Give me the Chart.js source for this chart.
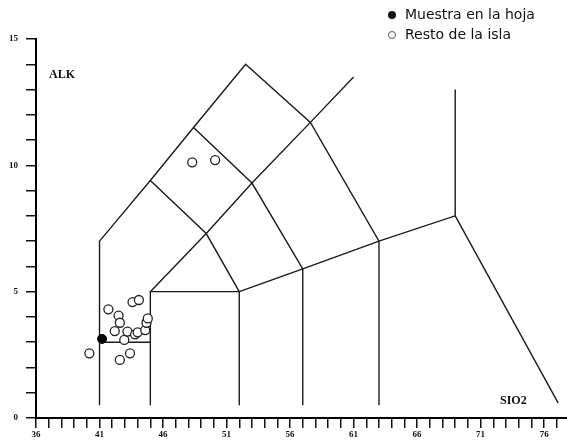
<!DOCTYPE html>
<html>
<head>
<meta charset="utf-8">
<script src="https://cdn.jsdelivr.net/npm/chart.js@4/dist/chart.umd.min.js"></script>
<style>
  body { margin: 0; background: #fff; }
  canvas { display: block; }
</style>
</head>
<body>
<canvas id="tas" width="567" height="442"></canvas>
<script>
// SiO2 (x) / total alkalis (y) samples
const muestraX = [41.2];
const muestraY = [3.13];

const restoX = [40.2, 41.7, 42.5, 42.6, 42.2, 42.6, 43.4, 42.95, 43.2, 43.6, 44.1, 43.8, 44.0, 44.6, 44.7, 44.8, 48.3, 50.1];
const restoY = [2.56, 4.3, 4.05, 3.77, 3.44, 2.3, 2.56, 3.09, 3.42, 4.59, 4.67, 3.31, 3.39, 3.48, 3.77, 3.94, 10.12, 10.21];

// field boundaries of the diagram, [SiO2, alk] pairs
const fieldOuter = [[41, 0.5], [41, 7], [45, 9.4], [48.4, 11.5], [52.5, 14], [57.6, 11.7], [63, 7], [63, 0.5]];
const fieldPicro = [[41, 3], [45, 3]];
const fieldBasalt = [[45, 0.5], [45, 5], [52, 5], [52, 0.5]];
const fieldTrachy = [[45, 5], [49.4, 7.3], [53, 9.3], [57.6, 11.7], [61, 13.5]];
const fieldTephri = [[45, 9.4], [49.4, 7.3], [52, 5]];
const fieldPhono = [[48.4, 11.5], [53, 9.3], [57, 5.9], [57, 0.5]];
const fieldAndes = [[52, 5], [57, 5.9], [63, 7], [69, 8], [69, 13]];
const fieldDacite = [[69, 8], [77.1, 0.6]];

const xTickStart = 36;
const yLabelEvery = 5;

const fieldLines = [fieldOuter, fieldPicro, fieldBasalt, fieldTrachy, fieldTephri, fieldPhono, fieldAndes, fieldDacite];

const toPoints = (xs, ys) => xs.map((x, i) => ({ x: x, y: ys[i] }));

const datasets = [
  {
    label: 'Muestra en la hoja',
    data: toPoints(muestraX, muestraY),
    pointRadius: 4.5,
    pointBackgroundColor: '#000',
    pointBorderColor: '#000',
    pointBorderWidth: 1
  },
  {
    label: 'Resto de la isla',
    data: toPoints(restoX, restoY),
    pointRadius: 4.5,
    pointBackgroundColor: '#fff',
    pointBorderColor: '#222',
    pointBorderWidth: 1.3
  }
];
fieldLines.forEach(line => {
  datasets.push({
    label: '',
    data: line.map(p => ({ x: p[0], y: p[1] })),
    showLine: true,
    pointRadius: 0,
    borderColor: '#1a1a1a',
    borderWidth: 1.4,
    fill: false,
    tension: 0
  });
});

// text inside the plot + little legend in the top right corner
const labelsPlugin = {
  id: 'labelsPlugin',
  afterDraw(chart) {
    const ctx = chart.ctx;
    ctx.save();
    ctx.fillStyle = '#111';
    ctx.textBaseline = 'middle';
    ctx.font = 'bold 12px "Liberation Serif"';
    ctx.fillText('ALK', 49, 75);
    ctx.fillText('SIO2', 500, 401);

    ctx.font = '14px "DejaVu Sans"';
    ctx.beginPath();
    ctx.arc(392, 15, 4, 0, Math.PI * 2);
    ctx.fill();
    ctx.fillText('Muestra en la hoja', 405, 15);
    ctx.beginPath();
    ctx.arc(392, 35, 3.5, 0, Math.PI * 2);
    ctx.strokeStyle = '#555';
    ctx.lineWidth = 1;
    ctx.stroke();
    ctx.fillText('Resto de la isla', 405, 35);
    ctx.restore();
  }
};

new Chart(document.getElementById('tas'), {
  type: 'scatter',
  data: { datasets: datasets },
  options: {
    responsive: false,
    animation: false,
    layout: { autoPadding: false, padding: { top: 39, right: 0, left: 0, bottom: 0 } },
    plugins: {
      legend: { display: false },
      tooltip: { enabled: false }
    },
    scales: {
      x: {
        type: 'linear',
        min: 36,
        max: 77.8,
        afterFit: (scale) => {
          scale.height = 24;
          scale.paddingRight = 0;
          scale.paddingLeft = 0;
        },
        border: { display: true, color: '#000', width: 2 },
        grid: { drawOnChartArea: false, tickLength: 10, color: '#111', lineWidth: 1.5 },
        ticks: {
          stepSize: 1,
          autoSkip: false,
          includeBounds: false,
          maxRotation: 0,
          padding: 1,
          color: '#111',
          font: { family: '"Liberation Serif"', size: 9, weight: 'bold' },
          callback: (v) => ((v - xTickStart) % 5 === 0 ? v : '')
        }
      },
      y: {
        type: 'linear',
        min: 0,
        max: 15,
        afterFit: (scale) => { scale.width = 36; },
        border: { display: true, color: '#000', width: 2 },
        grid: { drawOnChartArea: false, tickLength: 10, color: '#111', lineWidth: 1.5 },
        ticks: {
          stepSize: 1,
          autoSkip: false,
          padding: 8,
          color: '#111',
          font: { family: '"Liberation Serif"', size: 9, weight: 'bold' },
          callback: (v) => (v % yLabelEvery === 0 ? v : '')
        }
      }
    }
  },
  plugins: [labelsPlugin]
});
</script>
</body>
</html>
